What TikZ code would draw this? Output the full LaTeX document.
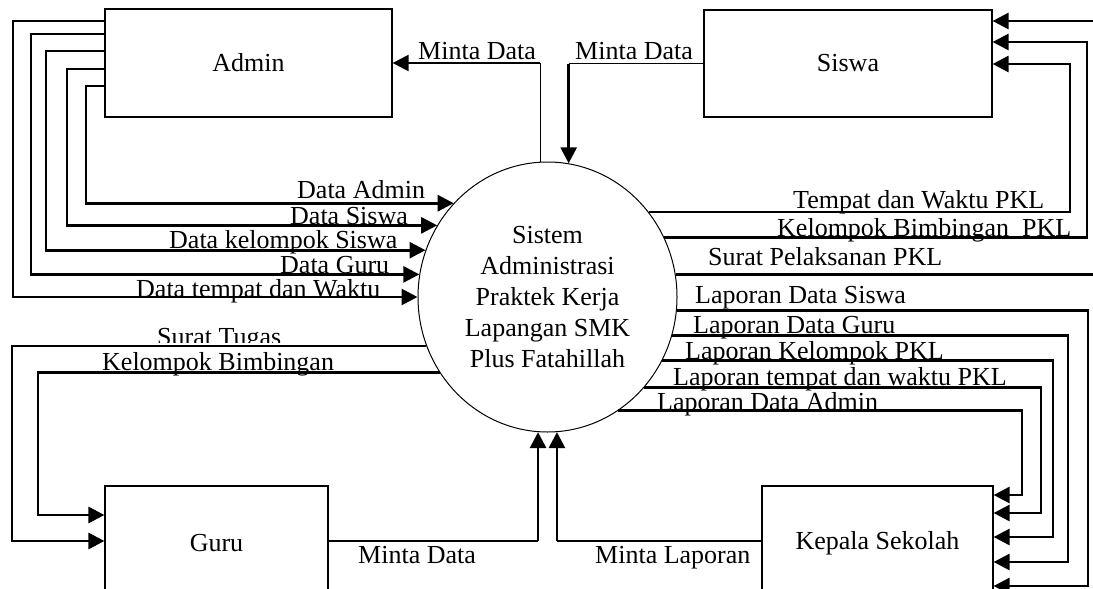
\documentclass[tikz,border=0pt]{standalone}
\usepackage{fontspec}
\setmainfont{Liberation Serif}
\usetikzlibrary{arrows.meta,shapes.geometric}
\begin{document}
\begin{tikzpicture}[x=1pt,y=-1pt,
  font=\fontsize{26}{31}\selectfont,
  box/.style={draw,line width=1.2pt,inner sep=0pt},
  flow/.style={line width=2.8pt,-{Triangle[length=16pt,width=16pt]}},
  thinline/.style={line width=1.2pt},
  lbl/.style={anchor=base west,inner sep=0pt}]
\useasboundingbox (0,0) rectangle (1093,589);
% entities
\node[box,minimum width=287pt,minimum height=108pt] (admin) at (248.5,63) {Admin};
\node[box,minimum width=288pt,minimum height=107pt] (siswa) at (848,63.5) {Siswa};
\node[box,minimum width=223pt,minimum height=114pt] (guru) at (216.5,543) {Guru};
\node[box,minimum width=231pt,minimum height=114pt] (kepala) at (877.5,543) {Kepala Sekolah};
% process
\node[draw,ellipse,line width=1pt,inner sep=0pt,minimum width=259pt,minimum height=270pt,align=center] (c) at (547.5,297)
  {Sistem\\Administrasi\\Praktek Kerja\\Lapangan SMK\\Plus Fatahillah};
% admin -> process
\draw[flow] (admin.west |- 0,86) -- (86,86) |- (c.135.27);
\draw[flow] (admin.west |- 0,69) -- (67,69) |- (c.147.7);
\draw[flow] (admin.west |- 0,51) -- (46,51) |- (c.159.3);
\draw[flow] (admin.west |- 0,34) -- (31,34) |- (c.170.7);
\draw[flow] (admin.west |- 0,21) -- (13,21) |- (c.180);
\node[lbl] (l1) at (297,198) {Data Admin};
\node[lbl] (l2) at (290,224) {Data Siswa};
\node[lbl] (l3) at (169,248) {Data kelompok Siswa};
\node[lbl] (l4) at (280,273) {Data Guru};
\node[lbl] (l5) at (136,297) {Data tempat dan Waktu};
% minta data (top)
\draw[thinline] (c.93.18) -- (c.93.18 |- admin.east);
\draw[flow,line width=2.2pt] (c.93.18 |- admin.east) -- (admin.east);
\node[lbl] (l6) at (418,59) {Minta Data};
\draw[thinline] (siswa.west) -- (siswa.west -| c.81.69);
\draw[flow] (siswa.west -| c.81.69) -- (c.81.69);
\node[lbl] (l7) at (575,59) {Minta Data};
% process -> siswa
\draw[flow] (c.40.75) -| (1070,64) -- (siswa.east |- 0,64);
\draw[flow] (c.27.35) -| (1087,42) -- (siswa.east |- 0,42);
\draw[flow] (c.10.67) -| (1110,21) -- (siswa.east |- 0,21);
\node[lbl] (l8) at (793,208) {Tempat dan Waktu PKL};
\node[lbl] (l9) at (777,236) {Kelompok Bimbingan\ \ PKL};
\node[lbl] (l10) at (708,265) {Surat Pelaksanan PKL};
% process -> kepala sekolah
\draw[flow] (c.354.69) -| (1088,586) -- (kepala.east |- 0,586);
\draw[flow] (c.343) -| (1068,562) -- (kepala.east |- 0,562);
\draw[flow] (c.331.18) -| (1053,537) -- (kepala.east |- 0,537);
\draw[flow] (c.317) -| (1041,513) -- (kepala.east |- 0,513);
\draw[flow] (c.302.1) -| (1022,495) -- (kepala.east |- 0,495);
\node[lbl] (l11) at (695,303) {Laporan Data Siswa};
\node[lbl] (l12) at (693,333) {Laporan Data Guru};
\node[lbl] (l13) at (685,359) {Laporan Kelompok PKL};
\node[lbl] (l14) at (673,385) {Laporan tempat dan waktu PKL};
\node[lbl] (l15) at (657,410) {Laporan Data Admin};
% process -> guru
\draw[flow] (c.202.09) -| (12,541) -- (guru.west |- 0,541);
\draw[flow] (c.215.38) -| (38,515) -- (guru.west |- 0,515);
\begin{scope}
\clip (0,0) rectangle (1093,342);
\node[lbl] (l16) at (157,345) {Surat Tugas};
\end{scope}
\node[lbl] (l17) at (102,370) {Kelompok Bimbingan};
% bottom requests
\draw[thinline] (guru.east |- 0,541) -- (c.266.8 |- 0,541);
\draw[flow] (c.266.8 |- 0,541) -- (c.266.8);
\draw[thinline] (kepala.west |- 0,541) -- (c.274 |- 0,541);
\draw[flow] (c.274 |- 0,541) -- (c.274);
\node[lbl] (l18) at (358,563) {Minta Data};
\node[lbl] (l19) at (595,563) {Minta Laporan};
\end{tikzpicture}
\end{document}
